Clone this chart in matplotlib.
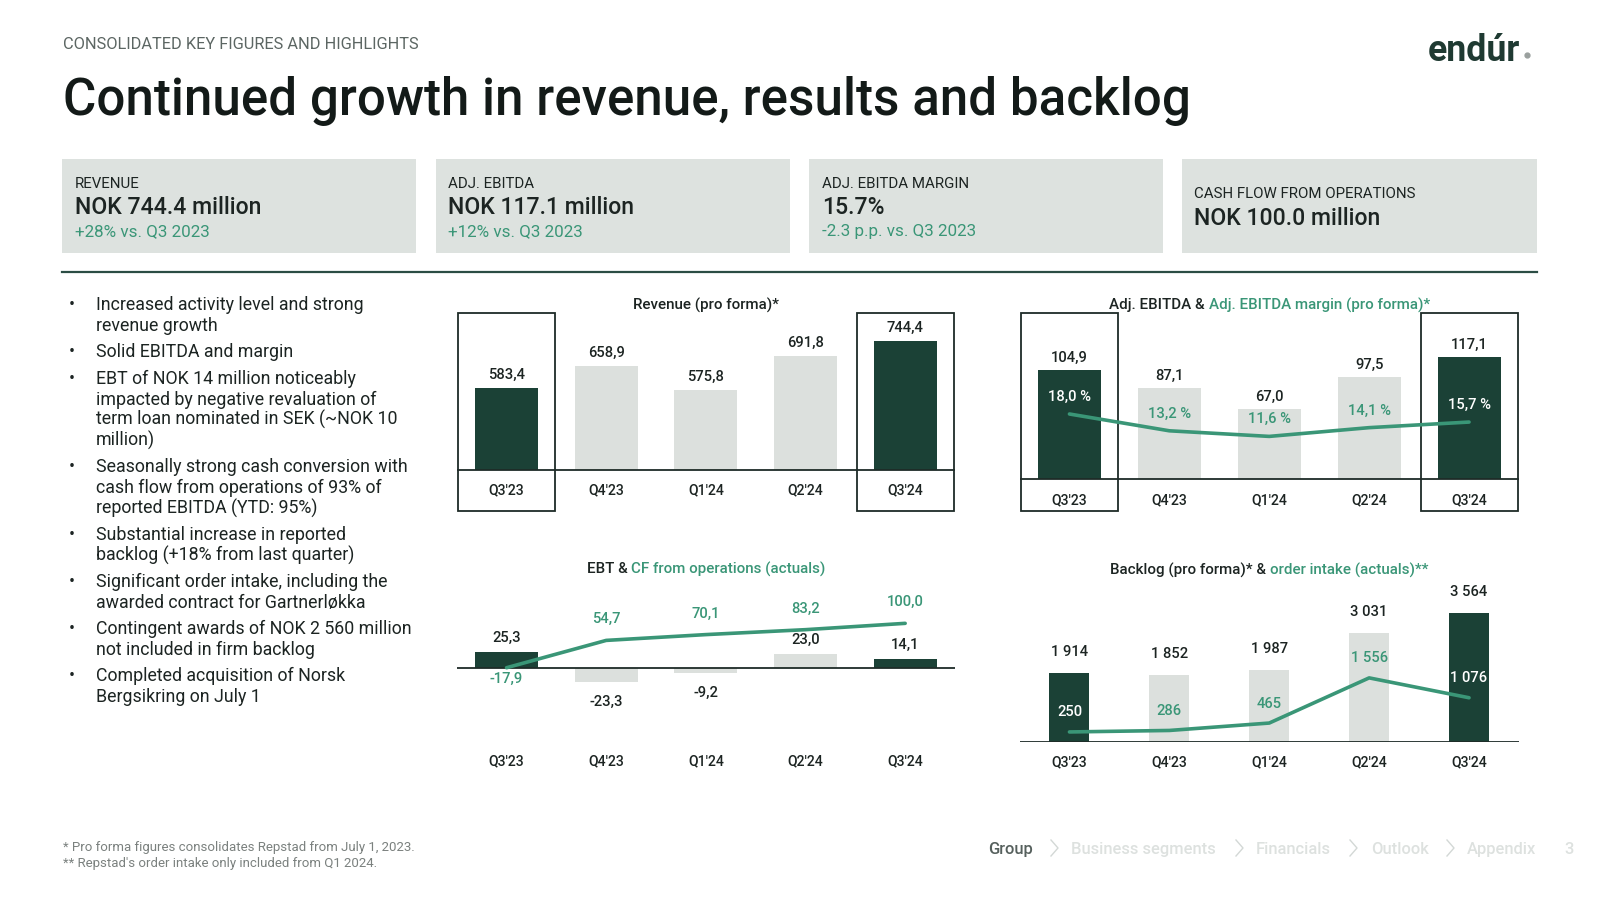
import matplotlib
matplotlib.use('Agg')
import matplotlib.pyplot as plt
from matplotlib.patches import Rectangle
from matplotlib.lines import Line2D

W, H = 1600, 900
plt.rcParams['font.family'] = ['Roboto', 'DejaVu Sans']

# ---------------- data ----------------
quarters = ["Q3'23", "Q4'23", "Q1'24", "Q2'24", "Q3'24"]
highlight = [True, False, False, False, True]
revenue = [583.4, 658.9, 575.8, 691.8, 744.4]
adj_ebitda = [104.9, 87.1, 67.0, 97.5, 117.1]
ebitda_margin = [18.0, 13.2, 11.6, 14.1, 15.7]
ebt = [25.3, -23.3, -9.2, 23.0, 14.1]
cf_operations = [-17.9, 54.7, 70.1, 83.2, 100.0]
backlog = [1914, 1852, 1987, 3031, 3564]
order_intake = [250, 286, 465, 1556, 1076]

kpi_labels = ["REVENUE", "ADJ. EBITDA", "ADJ. EBITDA MARGIN", "CASH FLOW FROM OPERATIONS"]
kpi_values = ["NOK 744.4 million", "NOK 117.1 million", "15.7%", "NOK 100.0 million"]
kpi_changes = ["+28% vs. Q3 2023", "+12% vs. Q3 2023", "-2.3 p.p. vs. Q3 2023", ""]

bullets = [
    ["Increased activity level and strong", "revenue growth"],
    ["Solid EBITDA and margin"],
    ["EBT of NOK 14 million noticeably", "impacted by negative revaluation of",
     "term loan nominated in SEK (~NOK 10", "million)"],
    ["Seasonally strong cash conversion with", "cash flow from operations of 93% of",
     "reported EBITDA (YTD: 95%)"],
    ["Substantial increase in reported", "backlog (+18% from last quarter)"],
    ["Significant order intake, including the", "awarded contract for Gartnerløkka"],
    ["Contingent awards of NOK 2 560 million", "not included in firm backlog"],
    ["Completed acquisition of Norsk", "Bergsikring on July 1"],
]

footnotes = ["* Pro forma figures consolidates Repstad from July 1, 2023.",
             "** Repstad's order intake only included from Q1 2024."]
nav_items = ["Group", "Business segments", "Financials", "Outlook", "Appendix"]

# ---------------- style ----------------
DARK = '#1b4136'
LIGHT = '#dce0dd'
GREEN = '#3a9677'
TEXT = '#1c2422'
BOXC = '#dde2df'
EDGE = '#1e2b27'
GREY = '#5c6663'

fig = plt.figure(figsize=(16, 9), dpi=100)
fig.patch.set_facecolor('white')
renderer = fig.canvas.get_renderer()


def fx(px):
    return px / W


def fy(py):
    return 1 - py / H


def text_w(s, size, weight='normal'):
    t = fig.text(0, 0, s, fontsize=size, fontweight=weight)
    w = t.get_window_extent(renderer).width
    t.remove()
    return w


def size_for(sample, target, weight='normal', base=20.0):
    return base * target / text_w(sample, base, weight)


def part_w(s, size, weight):
    return text_w('|' + s + '|', size, weight) - text_w('||', size, weight)


def ftext(x, yc, s, size, color=TEXT, weight='normal', ha='left'):
    """Place text so that the middle of its cap height sits at pixel row yc."""
    yb = yc + 0.355 * size * 100 / 72
    return fig.text(fx(x), fy(yb), s, fontsize=size, color=color, fontweight=weight,
                    ha=ha, va='baseline')


def multi_text(xc, y, parts, size, weight='medium'):
    widths = [part_w(s, size, weight) for s, _ in parts]
    x = xc - sum(widths) / 2
    for (s, c), w in zip(parts, widths):
        ftext(x, y, s, size, c, weight)
        x += w


# ---------------- header ----------------
s_head = size_for("CONSOLIDATED KEY FIGURES AND HIGHLIGHTS", 356)
ftext(63, 43, "CONSOLIDATED KEY FIGURES AND HIGHLIGHTS", s_head, GREY)
title = "Continued growth in revenue, results and backlog"
s_title = size_for(title, 1126, 'medium')
ftext(63, 97, title, s_title, '#131a18', 'medium')

s_logo = size_for("endúr", 92, 'bold')
ftext(1428, 48, "endúr", s_logo, '#1f3a32', 'bold')
fig.add_artist(Line2D([fx(1527)], [fy(55)], marker='o', markersize=3.5, color='#9aa09e',
                      transform=fig.transFigure))

# ---------------- KPI boxes ----------------
box_x = [(62.2, 416.3), (435.7, 789.8), (809.2, 1163.3), (1181.6, 1536.7)]
s_klab = size_for("REVENUE", 65)
s_kval = size_for("NOK 744.4 million", 186, 'medium')
s_kchg = size_for("+28% vs. Q3 2023", 134)
for (x0, x1), lab, val, chg in zip(box_x, kpi_labels, kpi_values, kpi_changes):
    fig.add_artist(Rectangle((fx(x0), fy(253)), (x1 - x0) / W, (253 - 159) / H,
                             transform=fig.transFigure, facecolor=BOXC, edgecolor='none'))
    tx = x0 + 12.5
    if chg:
        ftext(tx, 183, lab, s_klab)
        ftext(tx, 206, val, s_kval, TEXT, 'medium')
        ftext(tx, 230, chg, s_kchg, GREEN)
    else:
        ftext(tx, 193, lab, s_klab)
        ftext(tx, 217, val, s_kval, TEXT, 'medium')

fig.add_artist(Line2D([fx(62), fx(1537)], [fy(272), fy(272)], color='#2b4d44', lw=1.6,
                      transform=fig.transFigure))

# ---------------- bullets ----------------
s_bul = size_for("Increased activity level and strong", 268)
y = 304
for item in bullets:
    ftext(69, y, "•", s_bul)
    for line in item:
        ftext(96, y, line, s_bul)
        y += 20.7
    y += 26.4 - 20.7

# ---------------- charts helpers ----------------
s_ctitle = size_for("Revenue (pro forma)*", 146, 'medium')
s_cat = size_for("Q3'23", 36, 'medium')
s_val = size_for("583,4", 37, 'medium')


def make_ax(x0, x1, y0, y1):
    ax = fig.add_axes([fx(x0), fy(y1), (x1 - x0) / W, (y1 - y0) / H])
    ax.set_xlim(-0.5, 4.5)
    ax.axis('off')
    return ax


def set_scale(ax, y0, y1, base_px, base_val, ppu):
    ax.set_ylim(base_val - (y1 - base_px) / ppu, base_val + (base_px - y0) / ppu)


def fmt1(v):
    return f"{v:.1f}".replace('.', ',')


def fmt_th(v):
    return f"{v:,}".replace(',', ' ')


def label(ax, x, yv, s, off, color=TEXT):
    ax.annotate(s, (x, yv), xytext=(0, off), textcoords='offset pixels', ha='center',
                va='center', fontsize=s_val, fontweight='medium', color=color,
                annotation_clip=False)


def cat_labels(ax, base_val, dy):
    for i, q in enumerate(quarters):
        ax.annotate(q, (i, base_val), xytext=(0, -dy), textcoords='offset pixels',
                    ha='center', va='center', fontsize=s_cat, fontweight='medium',
                    color=TEXT, annotation_clip=False)


def boxes(ax):
    y0, y1 = ax.get_ylim()
    for i, h in enumerate(highlight):
        if h:
            ax.add_patch(Rectangle((i - 0.485, y0), 0.97, y1 - y0, fill=False,
                                   edgecolor=EDGE, lw=1.3, clip_on=False, zorder=5))


bar_colors = [DARK if h else LIGHT for h in highlight]
xs = list(range(len(quarters)))

# ---------------- Revenue ----------------
ax = make_ax(456.7, 955, 312.7, 511)
set_scale(ax, 312.7, 511, 470, 300, 0.29)
ax.bar(xs, [v - 300 for v in revenue], bottom=300, width=0.63, color=bar_colors)
ax.axhline(300, color=EDGE, lw=1.3)
for i, v in enumerate(revenue):
    label(ax, i, v, fmt1(v), 13)
cat_labels(ax, 300, 20.7)
boxes(ax)
multi_text(706, 304, [("Revenue (pro forma)*", TEXT)], s_ctitle)

# ---------------- Adj. EBITDA ----------------
ax = make_ax(1019.5, 1519, 312.7, 511)
set_scale(ax, 312.7, 511, 479, 0, 1.043)
ax.bar(xs, adj_ebitda, width=0.63, color=bar_colors)
ax.axhline(0, color=EDGE, lw=1.3)
for i, v in enumerate(adj_ebitda):
    label(ax, i, v, fmt1(v), 12)
cat_labels(ax, 0, 21)
boxes(ax)
ax2 = ax.twinx()
ax2.axis('off')
ax2.set_xlim(-0.5, 4.5)
set_scale(ax2, 312.7, 511, 477, 0, 3.5)
ax2.plot(xs, ebitda_margin, color=GREEN, lw=2.6, solid_capstyle='round')
for i, v in enumerate(ebitda_margin):
    label(ax2, i, v, fmt1(v) + " %", 17, 'white' if highlight[i] else GREEN)
multi_text(1269.5, 304, [("Adj. EBITDA & ", TEXT), ("Adj. EBITDA margin (pro forma)*", GREEN)],
           s_ctitle)

# ---------------- EBT & CF ----------------
ax = make_ax(456.7, 955, 590, 740)
set_scale(ax, 590, 740, 667.7, 0, 0.605)
ax.bar(xs, ebt, width=0.63, color=bar_colors)
ax.axhline(0, color=EDGE, lw=1.3)
for i, v in enumerate(ebt):
    label(ax, i, v, fmt1(v), 14 if v > 0 else -20)
cat_labels(ax, 0, 94)
ax2 = ax.twinx()
ax2.axis('off')
ax2.set_xlim(-0.5, 4.5)
set_scale(ax2, 590, 740, 661.0, 0, 0.3766)
ax2.plot(xs, cf_operations, color=GREEN, lw=2.6, solid_capstyle='round')
for i, v in enumerate(cf_operations):
    label(ax2, i, v, fmt1(v), 21 if v > 0 else -11, GREEN)
multi_text(706, 568, [("EBT & ", TEXT), ("CF from operations (actuals)", GREEN)], s_ctitle)

# ---------------- Backlog & order intake ----------------
ax = make_ax(1019.5, 1519, 590, 742.3)
set_scale(ax, 590, 742.3, 742.3, 0, 0.0362)
ax.bar(xs, backlog, width=0.40, color=bar_colors)
ax.axhline(0, color=EDGE, lw=1.3)
for i, v in enumerate(backlog):
    label(ax, i, v, fmt_th(v), 21)
cat_labels(ax, 0, 20.4)
ax2 = ax.twinx()
ax2.axis('off')
ax2.set_xlim(-0.5, 4.5)
set_scale(ax2, 590, 742.3, 742.3, 0, 0.0414)
ax2.plot(xs, order_intake, color=GREEN, lw=2.6, solid_capstyle='round')
for i, v in enumerate(order_intake):
    label(ax2, i, v, fmt_th(v), 19.5, 'white' if highlight[i] else GREEN)
multi_text(1269.5, 569, [("Backlog (pro forma)* & ", TEXT), ("order intake (actuals)**", GREEN)],
           s_ctitle)

# ---------------- footer ----------------
s_foot = size_for(footnotes[0], 351)
ftext(63, 846, footnotes[0], s_foot, '#7b817f')
ftext(63, 862, footnotes[1], s_foot, '#7b817f')

s_nav = size_for("Business segments", 145, 'medium')
nav_x = [988, 1071, 1256, 1371, 1467]
chev_x = [1051, 1236, 1350, 1447]
for i, (name, x) in enumerate(zip(nav_items, nav_x)):
    ftext(x, 848, name, s_nav, '#56605d' if i == 0 else '#dde1df', 'medium')
for x in chev_x:
    fig.add_artist(Line2D([fx(x), fx(x + 7), fx(x)], [fy(840), fy(848), fy(856)],
                          color='#d3d8d6', lw=1.0, transform=fig.transFigure))
ftext(1564, 848, "3", s_nav, '#dde1df', 'medium')

fig.savefig('out.png', dpi=100, facecolor='white')
